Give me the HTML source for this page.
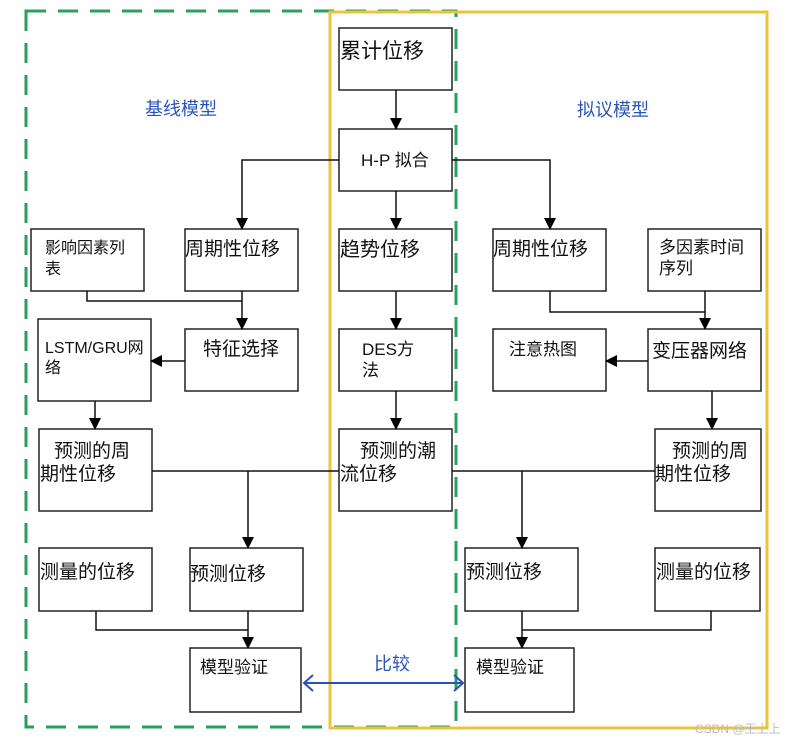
<!DOCTYPE html>
<html><head><meta charset="utf-8"><style>
body{margin:0;background:#fff}
svg text{font-family:"Liberation Sans","Noto Sans CJK SC",sans-serif;fill:#111}
</style></head><body>
<svg width="807" height="742" viewBox="0 0 807 742" xmlns="http://www.w3.org/2000/svg">
<defs>
<marker id="a" markerWidth="12" markerHeight="12" refX="11" refY="6" orient="auto" markerUnits="userSpaceOnUse"><path d="M0,0 L12,6 L0,12 z" fill="#000"/></marker>
</defs>
<rect x="26" y="11" width="430" height="716" fill="none" stroke="#24a15a" stroke-width="3" stroke-dasharray="20,12"/>
<rect x="330" y="12" width="437" height="716" fill="none" stroke="#ecc43a" stroke-width="3"/>
<g fill="#fff" stroke="#222" stroke-width="1.5">
<rect x="339" y="28" width="113" height="62"/>
<rect x="339" y="129" width="113" height="62"/>
<rect x="339" y="229" width="113" height="62"/>
<rect x="339" y="329" width="113" height="62"/>
<rect x="339" y="429" width="113" height="82"/>
<rect x="31" y="229" width="113" height="62"/>
<rect x="185" y="229" width="113" height="62"/>
<rect x="185" y="329" width="113" height="62"/>
<rect x="38" y="319" width="113" height="82"/>
<rect x="39" y="429" width="113" height="82"/>
<rect x="39" y="548" width="113" height="63"/>
<rect x="190" y="548" width="113" height="63"/>
<rect x="190" y="648" width="111" height="64"/>
<rect x="493" y="229" width="113" height="62"/>
<rect x="648" y="229" width="113" height="62"/>
<rect x="493" y="329" width="113" height="62"/>
<rect x="648" y="329" width="113" height="62"/>
<rect x="655" y="429" width="106" height="82"/>
<rect x="465" y="548" width="113" height="63"/>
<rect x="655" y="548" width="105" height="63"/>
<rect x="465" y="648" width="109" height="64"/>
</g>
<g fill="none" stroke="#111" stroke-width="1.5">
<line x1="396" y1="90" x2="396" y2="129" marker-end="url(#a)"/>
<line x1="396" y1="191" x2="396" y2="229" marker-end="url(#a)"/>
<line x1="396" y1="291" x2="396" y2="329" marker-end="url(#a)"/>
<line x1="396" y1="391" x2="396" y2="429" marker-end="url(#a)"/>
<polyline points="339,160 242,160 242,229" marker-end="url(#a)"/>
<polyline points="452,160 550,160 550,229" marker-end="url(#a)"/>
<polyline points="87,291 87,301 242,301"/>
<line x1="242" y1="291" x2="242" y2="329" marker-end="url(#a)"/>
<line x1="185" y1="361" x2="151" y2="361" marker-end="url(#a)"/>
<line x1="95" y1="401" x2="95" y2="429" marker-end="url(#a)"/>
<line x1="152" y1="471" x2="339" y2="471"/>
<line x1="452" y1="471" x2="655" y2="471"/>
<line x1="248" y1="471" x2="248" y2="548" marker-end="url(#a)"/>
<line x1="522" y1="471" x2="522" y2="548" marker-end="url(#a)"/>
<polyline points="96,611 96,630 248,630"/>
<line x1="248" y1="611" x2="248" y2="648" marker-end="url(#a)"/>
<polyline points="711,611 711,630 522,630"/>
<line x1="522" y1="611" x2="522" y2="648" marker-end="url(#a)"/>
<polyline points="550,291 550,312 705,312"/>
<line x1="705" y1="291" x2="705" y2="329" marker-end="url(#a)"/>
<line x1="648" y1="361" x2="606" y2="361" marker-end="url(#a)"/>
<line x1="712" y1="391" x2="712" y2="429" marker-end="url(#a)"/>
</g>
<line x1="304" y1="683" x2="463" y2="683" stroke="#2a4fb8" stroke-width="2"/>
<path d="M313,675 L304,683 L313,691 M454,675 L463,683 L454,691" fill="none" stroke="#2a4fb8" stroke-width="2"/>
<g font-size="19">
<text x="340" y="58" font-size="21">累计位移</text>
<text x="361" y="166" font-size="17">H-P 拟合</text>
<text x="340" y="256" font-size="20">趋势位移</text>
<text x="362" y="355" font-size="17">DES方</text>
<text x="362" y="376" font-size="17">法</text>
<text x="360" y="457">预测的潮</text>
<text x="340" y="480">流位移</text>
<text x="45" y="253" font-size="16">影响因素列</text>
<text x="45" y="274" font-size="16">表</text>
<text x="185" y="255">周期性位移</text>
<text x="203" y="355">特征选择</text>
<text x="45" y="353" font-size="16">LSTM/GRU网</text>
<text x="45" y="373" font-size="16">络</text>
<text x="54" y="457">预测的周</text>
<text x="40" y="480">期性位移</text>
<text x="40" y="578">测量的位移</text>
<text x="190" y="580">预测位移</text>
<text x="200" y="673" font-size="17">模型验证</text>
<text x="493" y="255">周期性位移</text>
<text x="659" y="253" font-size="17">多因素时间</text>
<text x="659" y="274" font-size="17">序列</text>
<text x="509" y="355" font-size="17">注意热图</text>
<text x="652" y="357">变压器网络</text>
<text x="672" y="457">预测的周</text>
<text x="655" y="480">期性位移</text>
<text x="466" y="578">预测位移</text>
<text x="656" y="578">测量的位移</text>
<text x="476" y="673" font-size="17">模型验证</text>
</g>
<g font-size="18">
<text x="145" y="115" style="fill:#2a55b8">基线模型</text>
<text x="577" y="116" style="fill:#2a55b8">拟议模型</text>
<text x="374" y="670" style="fill:#2a55b8">比较</text>
</g>
<text x="695" y="733" font-size="12" style="fill:#bbb">CSDN @王上上</text>
</svg>
</body></html>
